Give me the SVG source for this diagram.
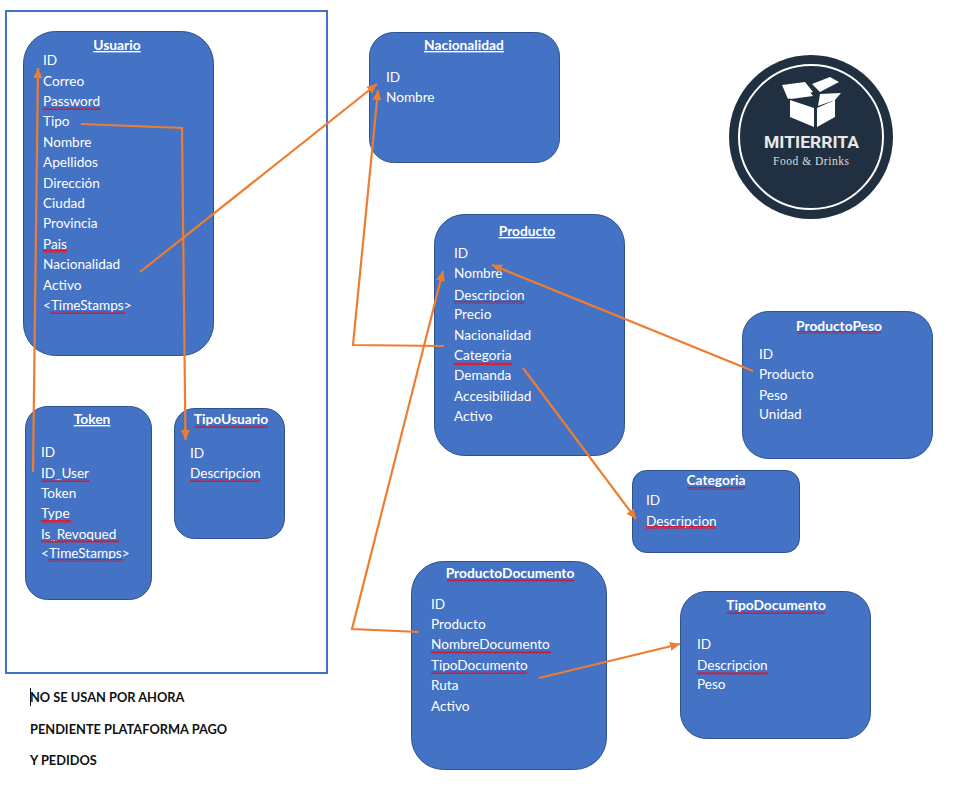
<svg xmlns="http://www.w3.org/2000/svg" width="968" height="796" viewBox="0 0 968 796">
<style>
.bg{fill:#fff}
.n{fill:#4472c4;stroke:#2f528f;stroke-width:1}
.t{font-family:"Lato","Carlito","Liberation Sans",sans-serif;font-size:13.6px;fill:#fff}
.h{font-family:"Lato","Carlito","Liberation Sans",sans-serif;font-size:13.8px;font-weight:700;fill:#fff;text-anchor:middle}
.u{text-decoration:underline}
.s{fill:url(#sq)}
.c{fill:none;stroke:#ed7d31;stroke-width:2.2}
.a{marker-end:url(#ah)}
.note{font-family:"Lato","Carlito","Liberation Sans",sans-serif;font-size:12.800px;font-weight:700;fill:#111}
</style>
<defs>
<pattern id="sq" width="3" height="3" patternUnits="userSpaceOnUse"><path d="M0 2.500L1.500 .5L3 2.500" fill="none" stroke="#e01020" stroke-width="1.200"/></pattern>
<marker id="ah" markerUnits="userSpaceOnUse" markerWidth="12" markerHeight="10" refX="10" refY="5" orient="auto"><path d="M0 .5L10 5L0 9.500z" fill="#ed7d31"/></marker>
</defs>
<rect class="bg" width="968" height="796"/>
<rect id="frame" x="6" y="11" width="321" height="662" fill="none" stroke="#4472c4" stroke-width="2"/>

<g id="usuario"><rect class="n" x="23.500" y="31.500" width="190" height="324" rx="32"/>
<text class="h u" x="117" y="50">Usuario</text>
<text class="t" x="43" y="65">ID</text><text class="t" x="43" y="86">Correo</text><text class="t" x="43" y="106">Password</text><text class="t" x="43" y="126">Tipo</text><text class="t" x="43" y="147">Nombre</text><text class="t" x="43" y="167">Apellidos</text><text class="t" x="43" y="188">Dirección</text><text class="t" x="43" y="208">Ciudad</text><text class="t" x="43" y="228">Provincia</text><text class="t" x="43" y="249">Pais</text><text class="t" x="43" y="269">Nacionalidad</text><text class="t" x="43" y="290">Activo</text><text class="t" x="43" y="310">&lt;TimeStamps&gt;</text>
<rect class="s" x="43" y="107" width="58" height="3"/><rect class="s" x="43" y="250" width="24" height="3"/><rect class="s" x="50" y="311" width="75" height="3"/></g>

<g id="token"><rect class="n" x="25.500" y="406.500" width="126" height="193" rx="22"/>
<text class="h u" x="92" y="424">Token</text>
<text class="t" x="41" y="457">ID</text><text class="t" x="41" y="478">ID_User</text><text class="t" x="41" y="498">Token</text><text class="t" x="41" y="518">Type</text><text class="t" x="41" y="539">Is_Revoqued</text><text class="t" x="41" y="558">&lt;TimeStamps&gt;</text>
<rect class="s" x="41" y="479" width="48" height="3"/><rect class="s" x="41" y="520" width="30" height="3"/><rect class="s" x="41" y="540" width="78" height="3"/><rect class="s" x="48" y="559" width="75" height="3"/></g>

<g id="tipousuario"><rect class="n" x="174.500" y="408.500" width="110" height="130" rx="20"/>
<text class="h" x="231" y="424">TipoUsuario</text>
<text class="t" x="190" y="458">ID</text><text class="t" x="190" y="478">Descripcion</text>
<rect class="s" x="194" y="425" width="74" height="3"/><rect class="s" x="190" y="479" width="70" height="3"/></g>

<g id="nacionalidad"><rect class="n" x="369.500" y="32.500" width="190" height="130" rx="24"/>
<text class="h u" x="464" y="50">Nacionalidad</text>
<text class="t" x="386" y="82">ID</text><text class="t" x="386" y="102">Nombre</text></g>

<g id="producto"><rect class="n" x="434.500" y="214.500" width="190" height="241" rx="30"/>
<text class="h u" x="527" y="236">Producto</text>
<text class="t" x="454" y="258">ID</text><text class="t" x="454" y="278">Nombre</text><text class="t" x="454" y="300">Descripcion</text><text class="t" x="454" y="319">Precio</text><text class="t" x="454" y="340">Nacionalidad</text><text class="t" x="454" y="360">Categoria</text><text class="t" x="454" y="380">Demanda</text><text class="t" x="454" y="401">Accesibilidad</text><text class="t" x="454" y="421">Activo</text>
<rect class="s" x="454" y="301" width="70" height="3"/><rect class="s" x="454" y="362" width="58" height="3"/></g>

<g id="productopeso"><rect class="n" x="742.500" y="311.500" width="190" height="147" rx="26"/>
<text class="h" x="839" y="331">ProductoPeso</text>
<text class="t" x="759" y="359">ID</text><text class="t" x="759" y="379">Producto</text><text class="t" x="759" y="400">Peso</text><text class="t" x="759" y="419">Unidad</text>
<rect class="s" x="797" y="331" width="84" height="3"/></g>

<g id="categoria"><rect class="n" x="632.500" y="470.500" width="167" height="82" rx="14"/>
<text class="h" x="716" y="485">Categoria</text>
<text class="t" x="646" y="505">ID</text><text class="t" x="646" y="526">Descripcion</text>
<rect class="s" x="687" y="487" width="58" height="3"/><rect class="s" x="646" y="526" width="70" height="3"/></g>

<g id="productodocumento"><rect class="n" x="411.500" y="561.500" width="195" height="208" rx="32"/>
<text class="h" x="510" y="578">ProductoDocumento</text>
<text class="t" x="431" y="609">ID</text><text class="t" x="431" y="629">Producto</text><text class="t" x="431" y="649">NombreDocumento</text><text class="t" x="431" y="670">TipoDocumento</text><text class="t" x="431" y="690">Ruta</text><text class="t" x="431" y="711">Activo</text>
<rect class="s" x="431" y="651" width="120" height="3"/><rect class="s" x="431" y="671" width="96" height="3"/><rect class="s" x="447" y="579" width="127" height="3"/></g>

<g id="tipodocumento"><rect class="n" x="680.500" y="591.500" width="190" height="147" rx="26"/>
<text class="h" x="776" y="610">TipoDocumento</text>
<text class="t" x="697" y="649">ID</text><text class="t" x="697" y="670">Descripcion</text><text class="t" x="697" y="689">Peso</text>
<rect class="s" x="727" y="611" width="98" height="3"/><rect class="s" x="697" y="672" width="71" height="3"/></g>

<g id="connectors">
<path class="c a" d="M33 472L38 68"/>
<path class="c a" d="M81 124L182 128L185.500 440"/>
<path class="c a" d="M140 272L377 84"/>
<path class="c a" d="M444 346L353 345L378 90"/>
<path class="c a" d="M753 371L492 265"/>
<path class="c a" d="M523 368L636 519"/>
<path class="c a" d="M419 632L352 629L443 271"/>
<path class="c a" d="M539 678L680 644"/>
</g>

<g id="logo">
<circle cx="811" cy="137" r="82" fill="#203040"/>
<circle cx="811" cy="137" r="72" fill="none" stroke="#fff" stroke-width="2"/>
<path fill="#fff" d="M790 100L814 108V127L790 117zM817 108L835 100V117L817 127zM782 85L805 82L813 92L788 99zM812 84L830 77L839 82L820 92zM820 94L841 93L835 100L818 106zM786 93L806 87L813 96L791 99z"/>
<text x="764" y="148" font-family="Roboto,'Liberation Sans',sans-serif" font-size="17" font-weight="700" fill="#e8e8e8" textLength="95" lengthAdjust="spacingAndGlyphs">MITIERRITA</text>
<text x="773" y="165" font-family="'Liberation Serif',serif" font-size="11.500" fill="#ddd" textLength="76">Food &amp; Drinks</text>
</g>

<g id="notes">
<path d="M30.500 688V706" stroke="#111" stroke-width="1"/>
<text class="note" x="30" y="702">NO SE USAN POR AHORA</text>
<text class="note" x="30" y="734">PENDIENTE PLATAFORMA PAGO</text>
<text class="note" x="30" y="765">Y PEDIDOS</text>
</g>
</svg>
